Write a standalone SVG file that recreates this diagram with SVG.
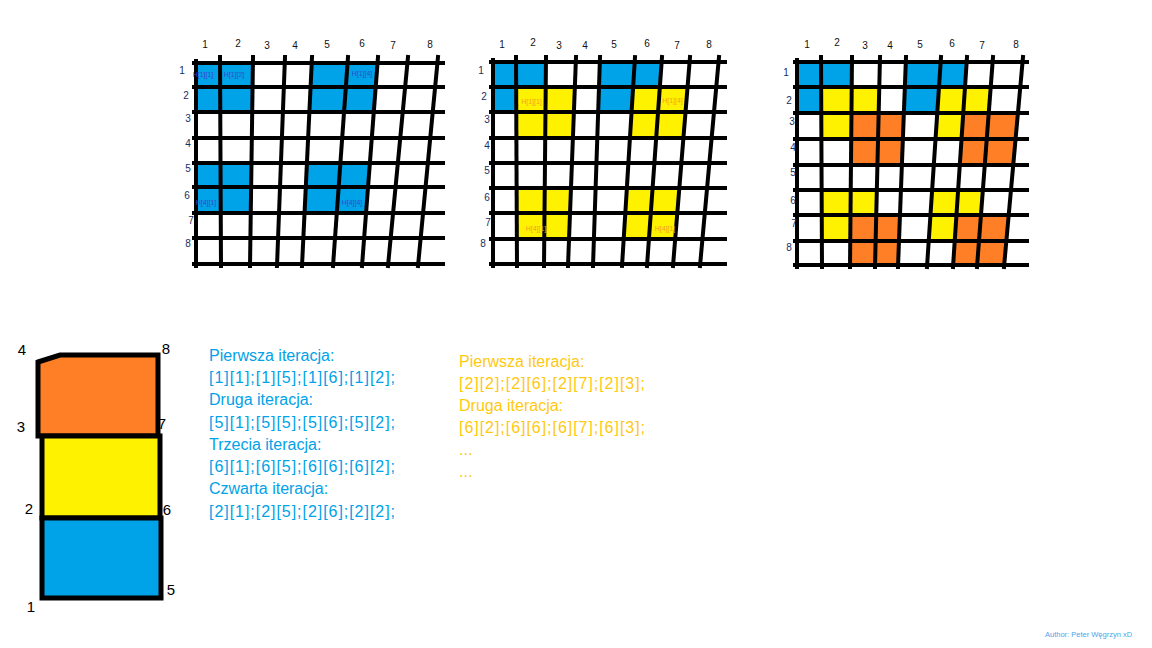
<svg xmlns="http://www.w3.org/2000/svg" width="1152" height="648" viewBox="0 0 1152 648">
<style>
.gl{stroke:#000;stroke-width:4;fill:none;stroke-linecap:square}
.bl{fill:#00a2e8}
.ye{fill:#fff200}
.or{fill:#ff7f27}
.lab{font-family:"Liberation Sans",Arial,sans-serif;font-size:10px;fill:#111;text-anchor:middle}
.rlab{font-family:"Liberation Sans",Arial,sans-serif;font-size:10px;fill:#17305e;text-anchor:middle}
.hb{font-family:"Liberation Sans",Arial,sans-serif;font-size:7px;fill:#3f48cc;text-anchor:middle}
.ho{font-family:"Liberation Sans",Arial,sans-serif;font-size:7px;fill:#f5a020;text-anchor:middle}
.tb{font-family:"Liberation Sans",Arial,sans-serif;font-size:16px;fill:#00a2e8}
.to{font-family:"Liberation Sans",Arial,sans-serif;font-size:16px;fill:#ffc90e}
.num{font-family:"Liberation Sans",Arial,sans-serif;font-size:15px;fill:#000;text-anchor:middle}
.box{stroke:#000;stroke-width:5;stroke-linejoin:miter}
</style>
<rect width="1152" height="648" fill="#fff"/>

<g id="grid1">
  <polygon class="bl" points="196,63 253,63 252.3,112 196,112"/>
  <polygon class="bl" points="312,63 378,63 374.1,112 309.6,112"/>
  <polygon class="bl" points="196,163 251.5,163 250.8,213 196,213"/>
  <polygon class="bl" points="307,163 370,163 366.1,213 304.5,213"/>
  <g class="gl">
    <line x1="194" y1="63" x2="443" y2="63"/>
    <line x1="194" y1="87" x2="443" y2="87"/>
    <line x1="194" y1="112" x2="443" y2="112"/>
    <line x1="194" y1="138" x2="443" y2="138"/>
    <line x1="194" y1="163" x2="443" y2="163"/>
    <line x1="194" y1="187" x2="443" y2="187"/>
    <line x1="194" y1="213" x2="443" y2="213"/>
    <line x1="194" y1="238" x2="443" y2="238"/>
    <line x1="194" y1="264" x2="443" y2="264"/>
    <line x1="196" y1="61" x2="196" y2="266"/>
    <line x1="220" y1="57" x2="221" y2="266"/>
    <line x1="253" y1="57" x2="250" y2="266"/>
    <line x1="285" y1="57" x2="277" y2="266"/>
    <line x1="312" y1="57" x2="302" y2="266"/>
    <line x1="348" y1="57" x2="333" y2="266"/>
    <line x1="378" y1="57" x2="362" y2="266"/>
    <line x1="408" y1="57" x2="388" y2="266"/>
    <line x1="438" y1="57" x2="418" y2="266"/>
  </g>
  <text class="hb" x="203" y="76.5">H[1][1]</text>
  <text class="hb" x="234" y="76.5">H[1][2]</text>
  <text class="hb" x="362" y="76">H[1][4]</text>
  <text class="hb" x="206" y="205">H[4][1]</text>
  <text class="hb" x="352" y="205">H[4][4]</text>
  <text class="lab" x="205" y="48">1</text>
  <text class="lab" x="238" y="47">2</text>
  <text class="lab" x="267" y="48.5">3</text>
  <text class="lab" x="295" y="48.5">4</text>
  <text class="lab" x="327" y="48">5</text>
  <text class="lab" x="362" y="47">6</text>
  <text class="lab" x="393" y="49">7</text>
  <text class="lab" x="430" y="48">8</text>
  <text class="rlab" x="182" y="73.5">1</text>
  <text class="rlab" x="186" y="99">2</text>
  <text class="rlab" x="188" y="121.5">3</text>
  <text class="rlab" x="188" y="146.5">4</text>
  <text class="rlab" x="188" y="171.5">5</text>
  <text class="rlab" x="187" y="198.5">6</text>
  <text class="rlab" x="191" y="223.5">7</text>
  <text class="rlab" x="188" y="246.5">8</text>
</g>

<g id="grid2">
  <polygon class="bl" points="493,62 546,62 545.8,87 493,87"/>
  <polygon class="bl" points="493,87 516.1,87 516.2,112 493,112"/>
  <polygon class="bl" points="600,62 662,62 660.1,87 599.1,87"/>
  <polygon class="bl" points="599.1,87 633.4,87 631.8,112 598.3,112"/>
  <polygon class="ye" points="516.1,87 575,87 573,138 516.4,138"/>
  <polygon class="ye" points="633.4,87 687.9,87 683.6,138 630.1,138"/>
  <polygon class="ye" points="516.6,188 571,188 569,239 516.9,239"/>
  <polygon class="ye" points="626.9,188 679.4,188 675.1,239 623.6,239"/>
  <g class="gl">
    <line x1="491" y1="62" x2="725" y2="62"/>
    <line x1="491" y1="87" x2="725" y2="87"/>
    <line x1="491" y1="112" x2="725" y2="112"/>
    <line x1="491" y1="138" x2="725" y2="138"/>
    <line x1="491" y1="163" x2="725" y2="163"/>
    <line x1="491" y1="188" x2="725" y2="188"/>
    <line x1="491" y1="213" x2="725" y2="213"/>
    <line x1="491" y1="239" x2="725" y2="239"/>
    <line x1="491" y1="264" x2="725" y2="264"/>
    <line x1="493" y1="60" x2="493" y2="266"/>
    <line x1="516" y1="57" x2="517" y2="266"/>
    <line x1="546" y1="57" x2="544" y2="266"/>
    <line x1="576" y1="57" x2="568" y2="266"/>
    <line x1="600" y1="57" x2="593" y2="266"/>
    <line x1="635" y1="57" x2="622" y2="266"/>
    <line x1="662" y1="57" x2="647" y2="266"/>
    <line x1="690" y1="57" x2="673" y2="266"/>
    <line x1="719" y1="57" x2="700" y2="266"/>
  </g>
  <text class="ho" x="531.5" y="104">H[1][1]</text>
  <text class="ho" x="672.5" y="103">H[1][4]</text>
  <text class="ho" x="536" y="230.5">H[4][1]</text>
  <text class="ho" x="665" y="230.5">H[4][1]</text>
  <text class="lab" x="502" y="48">1</text>
  <text class="lab" x="533" y="46">2</text>
  <text class="lab" x="559" y="49">3</text>
  <text class="lab" x="585" y="48.5">4</text>
  <text class="lab" x="614" y="48">5</text>
  <text class="lab" x="647" y="47">6</text>
  <text class="lab" x="677" y="49">7</text>
  <text class="lab" x="709" y="48">8</text>
  <text class="rlab" x="481" y="73.5">1</text>
  <text class="rlab" x="484" y="100">2</text>
  <text class="rlab" x="487" y="122.5">3</text>
  <text class="rlab" x="487" y="148.5">4</text>
  <text class="rlab" x="487" y="173.5">5</text>
  <text class="rlab" x="487" y="200.5">6</text>
  <text class="rlab" x="488" y="225.5">7</text>
  <text class="rlab" x="483" y="246.5">8</text>
</g>

<g id="grid3">
  <polygon class="bl" points="797,62 852,62 851.8,87 797,87"/>
  <polygon class="bl" points="797,87 821.1,87 821.3,113 797,113"/>
  <polygon class="bl" points="906,62 967,62 965.3,87 905,87"/>
  <polygon class="bl" points="905,87 939.3,87 937.5,113 904,113"/>
  <polygon class="ye" points="821.1,87 879.4,87 878.7,113 821.3,113"/>
  <polygon class="ye" points="821.3,113 851.5,113 851.2,139 821.4,139"/>
  <polygon class="ye" points="939.3,87 991,87 989,113 937.5,113"/>
  <polygon class="ye" points="937.5,113 963.5,113 961.7,139 935.7,139"/>
  <polygon class="or" points="851.5,113 904,113 901.9,165 851,165"/>
  <polygon class="or" points="963.5,113 1018.2,113 1013.4,165 959.9,165"/>
  <polygon class="ye" points="821.6,190 876.8,190 876.2,215 821.8,215"/>
  <polygon class="ye" points="821.8,215 850.5,215 850.2,241 821.9,241"/>
  <polygon class="ye" points="932.2,190 982.9,190 980.9,215 930.4,215"/>
  <polygon class="ye" points="930.4,215 956.4,215 954.7,241 928.7,241"/>
  <polygon class="or" points="850.5,215 900,215 898,265 850,265"/>
  <polygon class="or" points="956.4,215 1008.7,215 1004,265 953,265"/>
  <g class="gl">
    <line x1="795" y1="62" x2="1027" y2="62"/>
    <line x1="795" y1="87" x2="1027" y2="87"/>
    <line x1="795" y1="113" x2="1027" y2="113"/>
    <line x1="795" y1="139" x2="1027" y2="139"/>
    <line x1="795" y1="165" x2="1027" y2="165"/>
    <line x1="795" y1="190" x2="1027" y2="190"/>
    <line x1="795" y1="215" x2="1027" y2="215"/>
    <line x1="795" y1="241" x2="1027" y2="241"/>
    <line x1="795" y1="265" x2="1027" y2="265"/>
    <line x1="797" y1="60" x2="797" y2="267"/>
    <line x1="821" y1="57" x2="822" y2="267"/>
    <line x1="852" y1="57" x2="850" y2="267"/>
    <line x1="880" y1="57" x2="875" y2="267"/>
    <line x1="906" y1="57" x2="898" y2="267"/>
    <line x1="941" y1="57" x2="927" y2="267"/>
    <line x1="967" y1="57" x2="953" y2="267"/>
    <line x1="993" y1="57" x2="977" y2="267"/>
    <line x1="1023" y1="57" x2="1004" y2="267"/>
  </g>
  <text class="lab" x="807" y="48">1</text>
  <text class="lab" x="837" y="46">2</text>
  <text class="lab" x="865" y="49">3</text>
  <text class="lab" x="890" y="48.5">4</text>
  <text class="lab" x="920" y="48">5</text>
  <text class="lab" x="952" y="47">6</text>
  <text class="lab" x="982" y="49">7</text>
  <text class="lab" x="1016" y="48">8</text>
  <text class="rlab" x="786" y="75.5">1</text>
  <text class="rlab" x="789" y="103.5">2</text>
  <text class="rlab" x="792" y="124.5">3</text>
  <text class="rlab" x="793" y="150.5">4</text>
  <text class="rlab" x="793" y="175.5">5</text>
  <text class="rlab" x="793" y="203.5">6</text>
  <text class="rlab" x="794" y="226.5">7</text>
  <text class="rlab" x="789" y="250.5">8</text>
</g>

<g id="block">
  <polygon class="box" fill="#ff7f27" points="38,362 60,355 158,355 158,436 38,436"/>
  <rect class="box" fill="#fff200" x="42" y="436" width="118" height="82"/>
  <rect class="box" fill="#00a2e8" x="42" y="518" width="119" height="80"/>
  <text class="num" x="22" y="355">4</text>
  <text class="num" x="166" y="354">8</text>
  <text class="num" x="21" y="432">3</text>
  <text class="num" x="162" y="429">7</text>
  <text class="num" x="29" y="514">2</text>
  <text class="num" x="167" y="515">6</text>
  <text class="num" x="31" y="612">1</text>
  <text class="num" x="171" y="595">5</text>
</g>

<g id="text-blue">
  <text class="tb" x="209" y="360.5">Pierwsza iteracja:</text>
  <text class="tb" x="209" y="383" textLength="186" lengthAdjust="spacing">[1][1];[1][5];[1][6];[1][2];</text>
  <text class="tb" x="209" y="405">Druga iteracja:</text>
  <text class="tb" x="209" y="427.5" textLength="186" lengthAdjust="spacing">[5][1];[5][5];[5][6];[5][2];</text>
  <text class="tb" x="209" y="449.5">Trzecia iteracja:</text>
  <text class="tb" x="209" y="472" textLength="186" lengthAdjust="spacing">[6][1];[6][5];[6][6];[6][2];</text>
  <text class="tb" x="209" y="494">Czwarta iteracja:</text>
  <text class="tb" x="209" y="516.5" textLength="186" lengthAdjust="spacing">[2][1];[2][5];[2][6];[2][2];</text>
</g>

<g id="text-orange">
  <text class="to" x="459" y="367">Pierwsza iteracja:</text>
  <text class="to" x="459" y="389" textLength="186" lengthAdjust="spacing">[2][2];[2][6];[2][7];[2][3];</text>
  <text class="to" x="459" y="411">Druga iteracja:</text>
  <text class="to" x="459" y="433" textLength="186" lengthAdjust="spacing">[6][2];[6][6];[6][7];[6][3];</text>
  <text class="to" x="459" y="455">...</text>
  <text class="to" x="459" y="477">...</text>
</g>

<g id="author">
  <text x="1045" y="636.5" font-family="Liberation Sans, Arial, sans-serif" font-size="7.5" fill="#4da6e8">Author: Peter Węgrzyn xD</text>
</g>

<g id="connectors"/>
</svg>
